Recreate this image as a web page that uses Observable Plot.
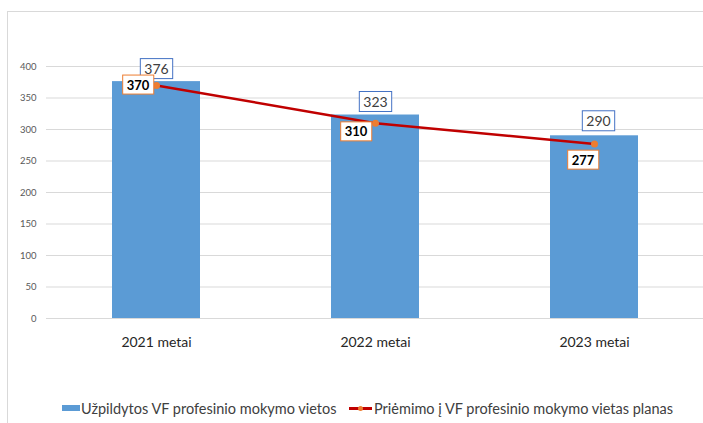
<!DOCTYPE html>
<html><head><meta charset="utf-8">
<script src="https://cdn.jsdelivr.net/npm/d3@7"></script>
<script src="https://cdn.jsdelivr.net/npm/@observablehq/plot@0.6"></script>
<style>
body{margin:0;background:#fff;font-family:Lato,"Open Sans",sans-serif;}
#wrap{position:relative;width:703px;height:423px;overflow:hidden;background:#fff;}
#frame{position:absolute;left:7px;top:11px;right:-2px;bottom:-2px;border-left:1px solid #d9d9d9;border-top:1px solid #d9d9d9;pointer-events:none;}
#chart{position:absolute;left:0;top:0;}
.leg{position:absolute;top:399px;height:18px;display:flex;align-items:center;font-size:14.5px;color:#404040;white-space:nowrap;}
.sw-bar{width:18px;height:6px;background:#5b9bd5;margin-right:1px;}
.sw-line{position:relative;width:23px;height:10px;margin-right:2px;}
.sw-line .l{position:absolute;left:0;right:0;top:4px;height:2.5px;background:#c00000;}
.sw-line .d{position:absolute;left:9px;top:2.5px;width:5px;height:5px;border-radius:50%;background:#ed7d31;}
</style></head>
<body>
<div id="wrap"><div id="chart"></div><div id="frame"></div>
<div class="leg" id="leg1" style="left:62px"><div class="sw-bar"></div><span></span></div>
<div class="leg" id="leg2" style="left:349px"><div class="sw-line"><div class="l"></div><div class="d"></div></div><span></span></div>
</div>
<script>
const categories = ["2021 metai", "2022 metai", "2023 metai"];
const filledPlaces = [376, 323, 290];
const admissionPlan = [370, 310, 277];
const yTicks = [0, 50, 100, 150, 200, 250, 300, 350, 400];
const seriesNames = ["Užpildytos VF profesinio mokymo vietos", "Priėmimo į VF profesinio mokymo vietas planas"];

const data = categories.map((c, i) => ({cat: c, filled: filledPlaces[i], plan: admissionPlan[i], i}));

document.querySelector("#leg1 span").textContent = seriesNames[0];
document.querySelector("#leg2 span").textContent = seriesNames[1];

const lineLabelOffsets = [[-18.5, 0], [-19.5, 9], [-11.5, 16.5]];
const barLabelOffsets = [[0, -12], [0, -12.5], [4, -14]];

const labelMarks = [];
data.forEach((d, i) => {
  labelMarks.push(Plot.text([d], {x: "cat", y: "filled", text: dd => String(dd.filled),
    dx: barLabelOffsets[i][0], dy: barLabelOffsets[i][1], fontSize: 14, fill: "#404040"}));
  labelMarks.push(Plot.text([d], {x: "cat", y: "plan", text: dd => String(dd.plan),
    dx: lineLabelOffsets[i][0], dy: lineLabelOffsets[i][1], fontSize: 13, fontWeight: "bold", fill: "#000"}));
});

const chart = Plot.plot({
  width: 703, height: 385,
  marginLeft: 46, marginRight: 0, marginTop: 66, marginBottom: 67,
  style: {fontFamily: "Lato, 'Open Sans', sans-serif", background: "transparent", overflow: "visible"},
  x: {domain: categories, paddingInner: 0.6, paddingOuter: 0.3, label: null},
  y: {domain: [0, 400], label: null},
  marks: [
    Plot.ruleY(yTicks, {stroke: "#d9d9d9", strokeWidth: 1}),
    Plot.axisY({ticks: yTicks, tickSize: 0, tickPadding: 10, fontSize: 9.5, fill: "#595959", label: null}),
    Plot.axisX({tickSize: 0, tickPadding: 19, fontSize: 14, fill: "#262626", label: null}),
    Plot.barY(data, {x: "cat", y: "filled", fill: "#5b9bd5"}),
    Plot.line(data, {x: "cat", y: "plan", stroke: "#c00000", strokeWidth: 2.5}),
    Plot.dot(data, {x: "cat", y: "plan", r: 3.5, fill: "#ed7d31"}),
    ...labelMarks
  ]
});
document.getElementById("chart").appendChild(chart);

const NS = "http://www.w3.org/2000/svg";
Array.from(chart.querySelectorAll("text")).forEach(t => {
  const v = Number(t.textContent.trim());
  let color = null;
  if (filledPlaces.includes(v)) color = "#4472c4";
  else if (admissionPlan.includes(v)) color = "#ed7d31";
  if (!color) return;
  let bb = t.getBBox();
  let x = bb.x, y = bb.y, w = bb.width, h = bb.height;
  if (!w) { w = 22; h = 16; x = -11; y = -8; }
  const r = document.createElementNS(NS, "rect");
  r.setAttribute("x", x - 4); r.setAttribute("y", y - 1.5);
  r.setAttribute("width", w + 8); r.setAttribute("height", h + 3);
  r.setAttribute("fill", "#fff"); r.setAttribute("stroke", color); r.setAttribute("stroke-width", 1);
  if (t.hasAttribute("transform")) r.setAttribute("transform", t.getAttribute("transform"));
  t.parentNode.insertBefore(r, t);
});
</script>
</body></html>
